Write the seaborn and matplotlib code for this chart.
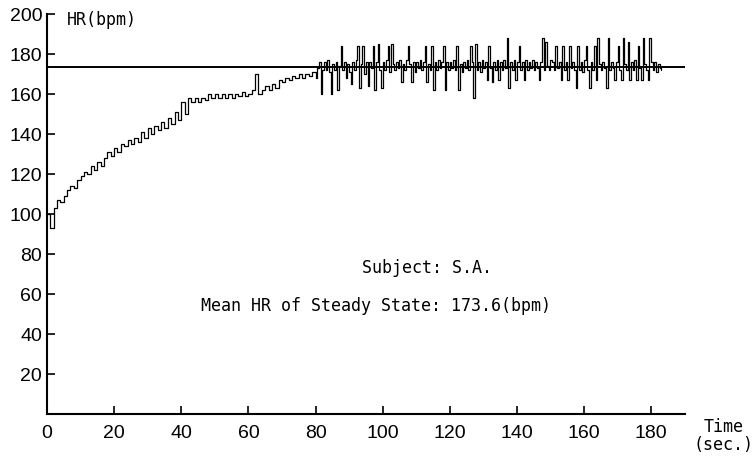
import numpy as np
import pandas as pd
import matplotlib
matplotlib.use("Agg")
import matplotlib.pyplot as plt
import seaborn as sns

# Heart rate during exercise onset
# rise phase, one value per second (t = 0 .. 80 s)
hr_rise = [100, 93, 103, 107, 106, 109, 112, 114, 113, 117,
           119, 121, 120, 124, 122, 126, 124, 128, 131, 129,
           133, 131, 135, 134, 137, 135, 138, 136, 141, 138,
           143, 140, 144, 142, 146, 143, 148, 145, 151, 147,
           156, 150, 158, 156, 158, 156, 158, 157, 160, 158,
           160, 158, 160, 158, 160, 158, 160, 159, 161, 159,
           160, 162, 170, 160, 162, 164, 162, 165, 163, 167,
           166, 168, 167, 169, 168, 170, 168, 170, 169, 171,
           168]

# steady phase, one value every 0.5 s (t = 80.5 .. 183 s)
hr_steady = [173, 176, 160, 172, 176, 172, 177, 171, 160, 175,
             172, 176, 162, 174, 184, 172, 176, 168, 175, 171,
             165, 176, 172, 177, 184, 163, 175, 184, 170, 176,
             164, 176, 173, 184, 162, 176, 185, 172, 163, 176,
             172, 177, 184, 171, 185, 175, 172, 176, 173, 177,
             166, 175, 172, 177, 184, 175, 166, 176, 171, 176,
             173, 177, 172, 176, 184, 166, 175, 172, 184, 162,
             176, 172, 177, 173, 176, 184, 162, 176, 172, 176,
             173, 177, 172, 184, 162, 175, 171, 176, 173, 177,
             172, 184, 176, 158, 185, 172, 176, 171, 177, 173,
             176, 167, 184, 173, 166, 176, 172, 177, 167, 176,
             172, 177, 173, 188, 163, 176, 172, 177, 167, 176,
             184, 172, 176, 167, 177, 172, 176, 173, 177, 172,
             176, 173, 167, 176, 188, 172, 186, 174, 172, 177,
             176, 172, 184, 173, 176, 167, 184, 172, 176, 167,
             184, 173, 176, 172, 163, 184, 172, 176, 171, 177,
             184, 172, 163, 176, 172, 184, 167, 188, 175, 172,
             176, 173, 163, 188, 172, 176, 173, 167, 176, 184,
             172, 167, 188, 175, 172, 186, 167, 176, 172, 177,
             167, 184, 173, 167, 188, 175, 172, 167, 188, 176,
             172, 176, 171, 175, 173, 172]

mean_hr = 173.6
x_ticks = [0, 20, 40, 60, 80, 100, 120, 140, 160, 180]
y_ticks = [20, 40, 60, 80, 100, 120, 140, 160, 180, 200]

t_rise = np.arange(len(hr_rise)) * 1.0
t_steady = 80.5 + np.arange(len(hr_steady)) * 0.5
df = pd.DataFrame({"time": np.concatenate([t_rise, t_steady]),
                   "hr": hr_rise + hr_steady})

sns.set_style("ticks")
plt.rcParams["font.family"] = ["Liberation Sans", "DejaVu Sans"]
mono = "DejaVu Sans Mono"

fig = plt.figure(figsize=(7.52, 4.58), dpi=100)
ax = fig.add_axes([0.0625, 0.096, 0.848, 0.873])

sns.lineplot(data=df, x="time", y="hr", estimator=None, color="black",
             linewidth=0.9, drawstyle="steps-post", ax=ax)
ax.axhline(mean_hr, color="black", linewidth=1.4)

ax.set_xlim(0, 190)
ax.set_ylim(0, 200)
ax.set_xticks(x_ticks)
ax.set_yticks(y_ticks)
ax.tick_params(direction="in", length=6, width=1.2, labelsize=14, colors="black")
ax.tick_params(axis="x", pad=8)
ax.set_xlabel("")
ax.set_ylabel("")
sns.despine(ax=ax)
for s in ["left", "bottom"]:
    ax.spines[s].set_linewidth(1.5)
    ax.spines[s].set_color("black")

ax.text(6, 197, "HR(bpm)", family=mono, fontsize=12, color="black",
        ha="left", va="center")
ax.text(94, 73, "Subject: S.A.", family=mono, fontsize=12, color="black",
        ha="left", va="center")
ax.text(46, 54, "Mean HR of Steady State: 173.6(bpm)", family=mono,
        fontsize=12, color="black", ha="left", va="center")
fig.text(0.962, 0.047, "Time\n(sec.)", family=mono, fontsize=12,
         color="black", ha="center", va="center", linespacing=1.0)

fig.savefig("out.png", dpi=100)
